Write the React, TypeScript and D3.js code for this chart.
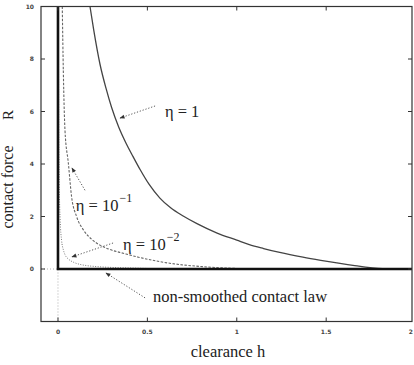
import React from "react";
import * as d3 from "d3";

// tick values
const xTicks = [0, 0.5, 1, 1.5, 2];
const xTickLabels = ["0", "0.5", "1", "1.5", "2"];
const yTicks = [0, 2, 4, 6, 8, 10];

// smoothed contact laws, [clearance h, contact force R]
const eta1: [number, number][] = [
  [0.179, 10], [0.2, 9.1], [0.235, 7.8], [0.27, 6.85], [0.3, 6.15], [0.34, 5.4],
  [0.38, 4.8], [0.42, 4.28], [0.46, 3.78], [0.51, 3.22], [0.57, 2.7], [0.63, 2.33],
  [0.7, 2.02], [0.78, 1.72], [0.89, 1.37], [1.0, 1.1], [1.07, 0.93], [1.15, 0.78],
  [1.24, 0.63], [1.37, 0.45], [1.47, 0.33], [1.56, 0.23], [1.65, 0.14], [1.72, 0.07],
  [1.79, 0.02], [1.85, 0],
];
const eta01: [number, number][] = [
  [0.024, 10], [0.03, 7.5], [0.039, 5.3], [0.058, 4.03], [0.076, 2.76], [0.104, 2.0],
  [0.142, 1.49], [0.19, 1.12], [0.235, 0.91], [0.3, 0.72], [0.365, 0.6], [0.45, 0.45],
  [0.57, 0.28], [0.68, 0.17], [0.79, 0.1], [0.9, 0.05], [1.0, 0.02], [1.1, 0],
];
const eta001: [number, number][] = [
  [0.0025, 10], [0.004, 6], [0.007, 3.3], [0.012, 1.9], [0.02, 1.1], [0.03, 0.73],
  [0.039, 0.55], [0.06, 0.37], [0.086, 0.26], [0.12, 0.18], [0.16, 0.13], [0.22, 0.09],
  [0.3, 0.06], [0.4, 0.04], [0.5, 0.02],
];
// non-smoothed (Signorini) law
const contactLaw: [number, number][] = [[0, 10], [0, 0], [2, 0]];

// annotation texts and their anchors (data coordinates)
const labelTexts = ["η = 1", "η = 10", "η = 10", "non-smoothed contact law"];
const labelSups = ["", "−1", "−2", ""];
const labelAt: [number, number][] = [[0.598, 5.79], [0.1, 2.21], [0.364, 0.72], [0.531, -1.26]];
const arrowTail: [number, number][] = [[0.543, 6.21], [0.151, 3.0], [0.308, 0.99], [0.487, -1.1]];
const arrowHead: [number, number][] = [[0.347, 5.75], [0.078, 3.85], [0.078, 0.46], [0.268, -0.15]];

const W = 414;
const H = 365;

export default function App() {
  const x = d3.scaleLinear().domain([-0.095, 1.98]).range([41, 412]);
  const y = d3.scaleLinear().domain([-2, 10]).range([321.5, 6.5]);
  const [x0, x1] = x.range();
  const [y0, y1] = y.range();

  const line = d3
    .line<[number, number]>()
    .x((d) => x(d[0]))
    .y((d) => y(d[1]))
    .curve(d3.curveMonotoneX);
  const straight = d3
    .line<[number, number]>()
    .x((d) => x(d[0]))
    .y((d) => y(d[1]));

  const serif = "'Liberation Serif', 'Times New Roman', serif";
  const tickFont = { fontFamily: "'DejaVu Sans', sans-serif", fontSize: 6, fontWeight: 700, fill: "#444" };

  return (
    <svg
      width={W}
      height={H}
      style={{ position: "absolute", left: 0, top: 0, background: "#fff" }}
    >
      <defs>
        <clipPath id="plot">
          <rect x={x0} y={y1} width={x1 - x0} height={y0 - y1} />
        </clipPath>
        <marker id="head" viewBox="0 0 10 10" refX="9" refY="5" markerWidth="6" markerHeight="5" orient="auto">
          <path d="M0,1 L10,5 L0,9 z" fill="#333" />
        </marker>
      </defs>

      {/* zero axes */}
      <line x1={x0} x2={x1} y1={y(0)} y2={y(0)} stroke="#999" strokeWidth={0.8} strokeDasharray="1,2" />
      <line x1={x(0)} x2={x(0)} y1={y0} y2={y1} stroke="#999" strokeWidth={0.8} strokeDasharray="1,2" />

      <g clipPath="url(#plot)" fill="none">
        <path d={line(eta1) || ""} stroke="#444" strokeWidth={1.3} />
        <path d={line(eta01) || ""} stroke="#666" strokeWidth={1.1} strokeDasharray="2.5,1.5" />
        <path d={line(eta001) || ""} stroke="#777" strokeWidth={1} strokeDasharray="1,1.5" />
        <path d={straight(contactLaw) || ""} stroke="#111" strokeWidth={2.6} />
      </g>

      {/* frame */}
      <rect x={x0} y={y1} width={x1 - x0} height={y0 - y1} fill="none" stroke="#333" strokeWidth={1.2} />

      {/* ticks */}
      {xTicks.map((t, i) => {
        const last = x(t) > W - 6;
        return (
          <g key={"x" + i}>
            <line x1={x(t)} x2={x(t)} y1={y0} y2={y0 - 4} stroke="#333" />
            <line x1={x(t)} x2={x(t)} y1={y1} y2={y1 + 4} stroke="#333" />
            <text x={last ? W - 1 : x(t)} y={334} textAnchor={last ? "end" : "middle"} style={tickFont}>
              {xTickLabels[i]}
            </text>
          </g>
        );
      })}
      {yTicks.map((t) => (
        <g key={"y" + t}>
          <line x1={x0} x2={x0 + 4} y1={y(t)} y2={y(t)} stroke="#333" />
          <line x1={x1} x2={x1 - 4} y1={y(t)} y2={y(t)} stroke="#333" />
          <text x={34} y={y(t)} dy="0.35em" textAnchor="end" style={tickFont}>
            {t}
          </text>
        </g>
      ))}

      {/* axis titles */}
      <text x={228} y={357} textAnchor="middle" fontFamily={serif} fontSize={16.5} fill="#222">
        clearance h
      </text>
      <text transform="translate(13,187) rotate(-90)" textAnchor="middle" fontFamily={serif} fontSize={16} fill="#222">
        contact force
      </text>
      <text transform="translate(13,115) rotate(-90)" textAnchor="middle" fontFamily={serif} fontSize={15} fill="#222">
        R
      </text>

      {/* annotations */}
      {labelTexts.map((txt, i) => (
        <g key={"a" + i}>
          <line
            x1={x(arrowTail[i][0])}
            y1={y(arrowTail[i][1])}
            x2={x(arrowHead[i][0])}
            y2={y(arrowHead[i][1])}
            stroke="#555"
            strokeWidth={1}
            strokeDasharray="1.2,1.8"
            markerEnd="url(#head)"
          />
          <text x={x(labelAt[i][0])} y={y(labelAt[i][1])} fontFamily={serif} fontSize={16.5} fill="#222">
            {txt}
            {labelSups[i] && (
              <tspan fontSize={12} dy={-9} dx={1}>
                {labelSups[i]}
              </tspan>
            )}
          </text>
        </g>
      ))}
    </svg>
  );
}
